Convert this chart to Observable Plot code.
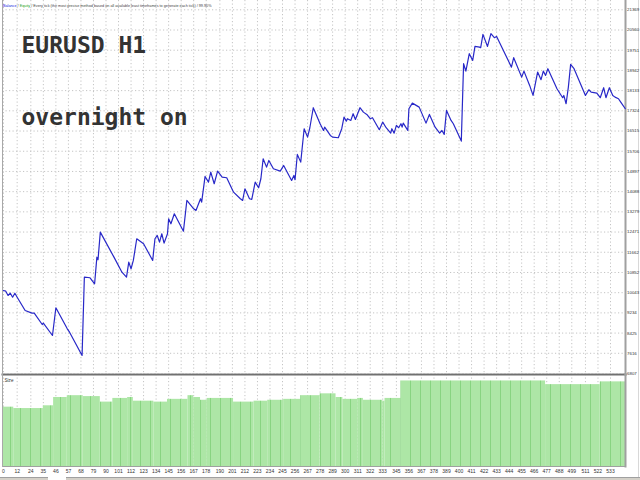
<!DOCTYPE html>
<html><head><meta charset="utf-8">
<script src="https://cdn.jsdelivr.net/npm/d3@7"></script>
<script src="https://cdn.jsdelivr.net/npm/@observablehq/plot@0.6"></script>
<style>
body{margin:0;background:#fff;}
#wrap{position:relative;width:640px;height:480px;overflow:hidden;background:#fff;}
#wrap > svg{position:absolute;left:0;overflow:visible;}
#tabs{position:absolute;left:0;top:477px;width:640px;height:3px;background:#d4d0c8;border-top:1px solid #a0a0a0;}
#tab{position:absolute;left:48px;top:-1px;width:18px;height:4px;background:#fff;}
#edge{position:absolute;left:638px;top:0;width:1px;height:477px;background:#d8d8d8;}
</style></head><body>
<div id="wrap"><div id="edge"></div><div id="tabs"><div id="tab"></div></div></div>
<svg width="0" height="0" style="position:absolute"><defs>
<pattern id="sizeStripes" patternUnits="userSpaceOnUse" width="10" height="10">
<rect width="10" height="10" fill="#ade6a6"/><rect width="1" height="10" fill="#88d481"/>
</pattern></defs></svg>
<script>
// Balance curve: trade number and balance
const trades = [
  0, 2, 4, 6, 8, 10, 12, 19, 25, 27,
  34, 35, 43, 46, 56, 58, 69, 71, 76, 80,
  82, 83, 85, 97, 104, 108, 110, 112, 114, 117,
  123, 131, 133, 135, 137, 139, 141, 144, 145, 147,
  150, 158, 161, 167, 169, 173, 174, 177, 180, 182,
  185, 188, 192, 196, 202, 208, 210, 212, 216, 218,
  221, 224, 226, 228, 231, 233, 237, 243, 246, 253,
  255, 256, 258, 261, 264, 267, 269, 272, 278, 281,
  282, 287, 289, 294, 297, 299, 301, 302, 305, 307,
  309, 313, 316, 319, 322, 324, 330, 333, 336, 340,
  341, 343, 345, 347, 349, 350, 351, 355, 356, 359,
  365, 371, 374, 379, 383, 385, 387, 389, 393, 395,
  402, 404, 406, 409, 412, 414, 418, 419, 421, 425,
  428, 431, 433, 446, 448, 455, 457, 462, 465, 469,
  472, 474, 476, 478, 486, 491, 492, 494, 496, 498,
  501, 511, 514, 516, 521, 524, 527, 529, 532, 535,
  537, 540, 542, 546
];
const balance = [
  10131, 10103, 9931, 10023, 9863, 10023, 9863, 9330, 9222, 9222,
  8769, 8822, 8329, 9438, 8597, 8461, 7528, 10664, 10640, 10399,
  11465, 11361, 12466, 11465, 10864, 10664, 11265, 11000, 11333, 12202,
  12001, 11333, 12202, 12334, 12066, 12402, 12026, 12402, 13003, 12802,
  13203, 12506, 13736, 13403, 13335, 13804, 13668, 14697, 14469, 14869,
  14404, 14909, 14669, 14645, 14068, 13804, 13736, 14204, 13804, 13776,
  14469, 14244, 14605, 15406, 15069, 15338, 15005, 14909, 15137, 14537,
  14737, 14565, 15578, 15270, 16607, 16271, 16647, 17448, 16807, 16539,
  16671, 16339, 16271, 16247, 16607, 17072, 16912, 17008, 16940, 17208,
  16980, 17448, 17272, 17180, 17008, 17048, 16567, 16872, 16647, 16431,
  16607, 16431, 16739, 16647, 16807, 16671, 16832, 16539, 17408, 17633,
  17472, 16832, 17180, 16671, 16431, 16539, 16379, 17340, 16940, 16807,
  16111, 19210, 18914, 19611, 19343, 19903, 19875, 19850, 20384, 19903,
  20412, 20252, 20304, 19074, 19451, 18674, 18914, 18341, 17941, 18874,
  18570, 18914, 18742, 19010, 18209, 17849, 17941, 17608, 18273, 19182,
  19010, 17941, 18169, 18073, 18033, 17849, 18249, 17849, 18249, 17941,
  17873, 17809, 17673, 17408
];
// Lot size histogram (runs of trades with the same size)
const sizeFrom = [0, 9, 35, 44, 56, 70, 85, 96, 109, 114, 132, 144, 162, 167, 173, 179, 202, 220, 232, 246, 261, 278, 292, 298, 311, 316, 333, 335, 349, 476, 524];
const sizeTo   = [9, 35, 44, 56, 70, 85, 96, 109, 114, 132, 144, 162, 167, 173, 179, 202, 220, 232, 246, 261, 278, 292, 298, 311, 316, 333, 335, 349, 476, 524, 547];
const sizeLots = [0.645, 0.63, 0.66, 0.75, 0.77, 0.76, 0.70, 0.74, 0.75, 0.71, 0.70, 0.73, 0.77, 0.75, 0.72, 0.74, 0.70, 0.71, 0.72, 0.73, 0.77, 0.79, 0.75, 0.73, 0.74, 0.72, 0.71, 0.74, 0.93, 0.89, 0.92];
// Axis tick labels
const yTicks = [6807, 7616, 8425, 9234, 10043, 10852, 11662, 12471, 13279, 14088, 14897, 15706, 16515, 17324, 18133, 18942, 19751, 20560, 21369];
const xTicks = [0, 12, 24, 35, 46, 57, 68, 79, 90, 101, 112, 123, 134, 145, 156, 167, 178, 190, 201, 212, 223, 234, 245, 256, 267, 278, 289, 300, 311, 322, 333, 345, 356, 367, 378, 389, 400, 411, 422, 433, 444, 455, 466, 477, 488, 499, 511, 522, 533];
const titleText = "EURUSD H1";
const noteText = "overnight on";
const headerParts = ["Balance", " / ", "Equity", " / Every tick (the most precise method based on all available least timeframes to generate each tick) / 99.90%"];

const curve = trades.map((t, i) => ({t, b: balance[i]}));
const sizes = sizeFrom.map((f, i) => ({x1: f, x2: sizeTo[i], lots: sizeLots[i]}));
const fmt = d => String(d);
const font = "Liberation Sans, Arial, sans-serif";
const gridStyle = {stroke: "#c4c4c4", strokeOpacity: 1, strokeDasharray: "1.2,2.3"};

const main = Plot.plot({
  width: 640, height: 374,
  marginLeft: 2, marginRight: 15, marginTop: 0, marginBottom: 0,
  style: {fontFamily: font, background: "transparent", overflow: "visible"},
  x: {domain: [0, 533], range: [3, 610], axis: null},
  y: {domain: [6807, 21369], range: [373, 9.3]},
  marks: [
    Plot.gridY({ticks: yTicks, ...gridStyle}),
    Plot.gridX({ticks: xTicks, ...gridStyle}),
    Plot.frame({anchor: "left", stroke: "#a8a8a8", strokeWidth: 1}),
    Plot.frame({anchor: "right", stroke: "#a0a0a0", strokeWidth: 2}),
    Plot.axisY({ticks: yTicks, anchor: "right", tickSize: 0, tickPadding: 1.5, fontSize: 4.4, fontFamily: font, tickFormat: fmt, label: null, fill: "#333"}),
    Plot.line(curve, {x: "t", y: "b", stroke: "#2828c8", strokeWidth: 1.2}),
    Plot.text([titleText], {frameAnchor: "top-left", textAnchor: "start", lineAnchor: "middle", dx: 19, dy: 45.5, fontFamily: "DejaVu Sans Mono", fontWeight: "bold", fontSize: 23, fill: "#333"}),
    Plot.text([noteText], {frameAnchor: "top-left", textAnchor: "start", lineAnchor: "middle", dx: 19, dy: 117.5, fontFamily: "DejaVu Sans Mono", fontWeight: "bold", fontSize: 23, fill: "#333"})
  ]
});
main.style.top = "0px";
main.style.zIndex = "2";

const sub = Plot.plot({
  width: 640, height: 106,
  marginLeft: 2, marginRight: 15, marginTop: 0, marginBottom: 14,
  style: {fontFamily: font, background: "transparent", overflow: "visible"},
  x: {domain: [0, 533], range: [3, 610]},
  y: {domain: [0, 1], range: [92, 0], axis: null},
  marks: [
    Plot.gridX({ticks: xTicks, ...gridStyle}),
    Plot.rectY(sizes, {x1: "x1", x2: "x2", y: "lots", fill: "url(#sizeStripes)"}),
    Plot.frame({anchor: "top", stroke: "#707070", strokeWidth: 2}),
    Plot.frame({anchor: "bottom", stroke: "#a0a0a0", strokeWidth: 1}),
    Plot.frame({anchor: "left", stroke: "#a8a8a8", strokeWidth: 1}),
    Plot.frame({anchor: "right", stroke: "#a0a0a0", strokeWidth: 2}),
    Plot.axisX({ticks: xTicks, anchor: "bottom", tickSize: 0, tickPadding: 3, fontSize: 5, fontFamily: font, tickFormat: fmt, label: null, fill: "#333"}),
    Plot.text(["Size"], {frameAnchor: "top-left", textAnchor: "start", lineAnchor: "middle", dx: 2, dy: 6, fontSize: 4.6, fontFamily: font, fill: "#333"})
  ]
});
sub.style.top = "374px";
sub.style.zIndex = "1";

const wrap = document.getElementById("wrap");
wrap.appendChild(main);
wrap.appendChild(sub);

// header line
const ns = "http://www.w3.org/2000/svg";
const hdr = document.createElementNS(ns, "svg");
hdr.setAttribute("width", 640); hdr.setAttribute("height", 12);
hdr.style.top = "0px";
hdr.style.zIndex = "3";
const t = document.createElementNS(ns, "text");
t.setAttribute("x", 3); t.setAttribute("y", 7);
t.setAttribute("font-size", 4);
t.setAttribute("font-family", font);
const colors = ["#2020e0", "#404040", "#20a020", "#404040"];
headerParts.forEach((p, i) => {
  const s = document.createElementNS(ns, "tspan");
  s.setAttribute("fill", colors[i]);
  s.textContent = p;
  t.appendChild(s);
});
t.style.whiteSpace = "pre";
hdr.appendChild(t);
wrap.appendChild(hdr);
// fit header to the reference width (about 209 px)
const len = t.getComputedTextLength();
if (len > 0) t.setAttribute("font-size", (4 * 209 / len).toFixed(2));
</script>
</body></html>
